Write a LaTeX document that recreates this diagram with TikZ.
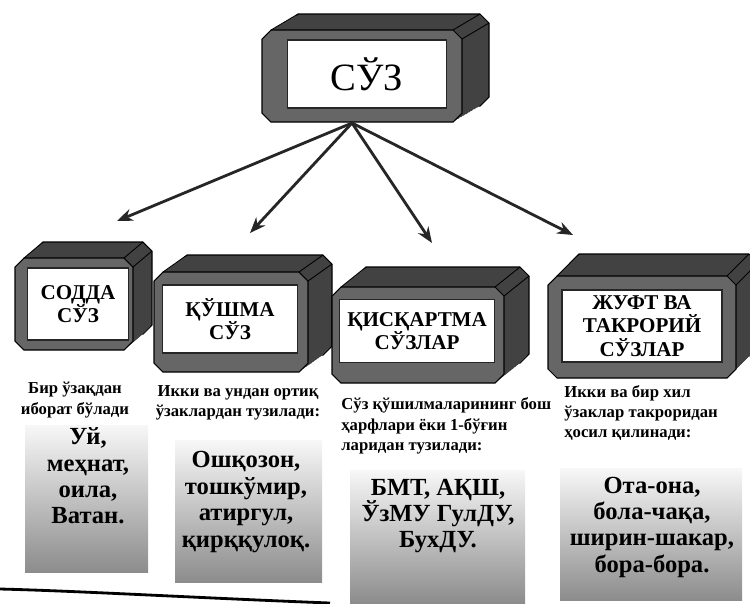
\documentclass[tikz,border=0pt]{standalone}
\usepackage{fontspec}
\setmainfont{Liberation Serif}
\usetikzlibrary{arrows.meta,calc}

\newcommand\sakkiz[2]{(-#1+9,-#2) -- (#1-9,-#2) -- (#1,-#2+9) -- (#1,#2-9) -- (#1-9,#2) -- (-#1+9,#2) -- (-#1,#2-9) -- (-#1,-#2+9) -- cycle}

\tikzset{
	pics/gisht/.style args={#1/#2/#3/#4}{code={
		\filldraw[black!74, draw=black, line width=0.6pt, shift={(#3,-#4)}] \sakkiz{#1}{#2};
		\foreach \k in {1,...,9}
			\fill[black!74, shift={(\k*#3/10,-\k*#4/10)}] \sakkiz{#1}{#2};
		\filldraw[black!60, draw=black, line width=0.6pt] \sakkiz{#1}{#2};
		\draw[black, line width=0.5pt] (-#1+9,-#2) -- +(#3,-#4) (#1-9,-#2) -- +(#3,-#4) (#1,-#2+9) -- +(#3,-#4);
	}}
}

\begin{document}
\begin{tikzpicture}[x=0.02cm, y=-0.02cm,
	lavha/.style={draw=black!85, fill=white, line width=0.6pt, align=center, inner sep=0pt, font=\bfseries\fontsize{12}{13.5}\selectfont},
	izoh/.style={inner sep=0pt, font=\bfseries\fontsize{9.5}{11.5}\selectfont},
	misol/.style={align=center, inner sep=0pt, font=\bfseries\fontsize{14}{15}\selectfont},
	fon/.style={top color=black!3, middle color=black!20, bottom color=black!45},
	yoy/.style={line width=1.6pt, black!85, -{Stealth[length=9pt,width=7pt]}}]

	\useasboundingbox (0,0) rectangle (750,603);

	% g'ishtlar
	\pic at (362,76) {gisht=100/46/27/16};
	\node[lavha, minimum width=3.18cm, minimum height=1.36cm, font=\fontsize{22}{24}\selectfont] (suz) at (367,74) {СЎЗ};

	\pic at (74,304) {gisht=59/46/19/16};
	\node[lavha, minimum width=2.02cm, minimum height=1.44cm] (sodda) at (78,304) {СОДДА\\СЎЗ};

	\pic at (231,322) {gisht=77/50/24/17};
	\node[lavha, minimum width=2.7cm, minimum height=1.36cm] (qushma) at (230,319) {ҚЎШМА\\СЎЗ};

	\pic at (418,335) {gisht=86/48/25/20};
	\node[lavha, minimum width=3.1cm, minimum height=1.26cm] (qisqartma) at (417,331) {ҚИСҚАРТМА\\СЎЗЛАР};

	\pic at (642,327) {gisht=94/51/22/22};
	\node[lavha, minimum width=3.2cm, minimum height=1.44cm] (juft) at (642,326) {ЖУФТ ВА\\ТАКРОРИЙ\\СЎЗЛАР};

	% strelkalar
	\coordinate (ildiz) at (352,123);
	\coordinate (u1) at (117,221);
	\coordinate (u2) at (250,233);
	\coordinate (u3) at (432,243);
	\coordinate (u4) at (573,235);
	\draw[yoy] (ildiz) -- (u1);
	\draw[yoy] (ildiz) -- (u2);
	\draw[yoy] (ildiz) -- (u3);
	\draw[yoy] (ildiz) -- (u4);

	% izohlar
	\node[izoh, align=center] (sodda-izoh) at (75,400) {Бир ўзақдан\\иборат бўлади};
	\node[izoh, align=center] (qushma-izoh) at (238,403) {Икки ва ундан ортиқ\\ўзаклардан тузилади:};
	\node[izoh, align=left, anchor=west] (qisqartma-izoh) at (341,426) {Сўз қўшилмаларининг бош\\ҳарфлари ёки 1-бўғин\\ларидан тузилади:};
	\node[izoh, align=left, anchor=west] (juft-izoh) at (564,413) {Икки ва бир хил\\ўзаклар такроридан\\ҳосил қилинади:};

	% misollar
	\fill[fon] (25,425) rectangle (148,572);
	\fill[fon] (175,440) rectangle (322,582);
	\fill[fon] (350,470) rectangle (525,603);
	\fill[fon] (560,468) rectangle (742,600);
	\node[misol] (sodda-misol) at (88,476) {Уй,\\меҳнат,\\оила,\\Ватан.};
	\node[misol] (qushma-misol) at (246,502) {Ошқозон,\\тошкўмир,\\атиргул,\\қирққулоқ.};
	\node[misol] (qisqartma-misol) at (438,516) {БМТ, АҚШ,\\ЎзМУ ГулДУ,\\БухДУ.};
	\node[misol] (juft-misol) at (652,527) {Ота-она,\\бола-чақа,\\ширин-шакар,\\бора-бора.};

	\draw[line width=1.6pt] (0,589) .. controls (80,591) and (200,598) .. (330,603);
\end{tikzpicture}
\end{document}
